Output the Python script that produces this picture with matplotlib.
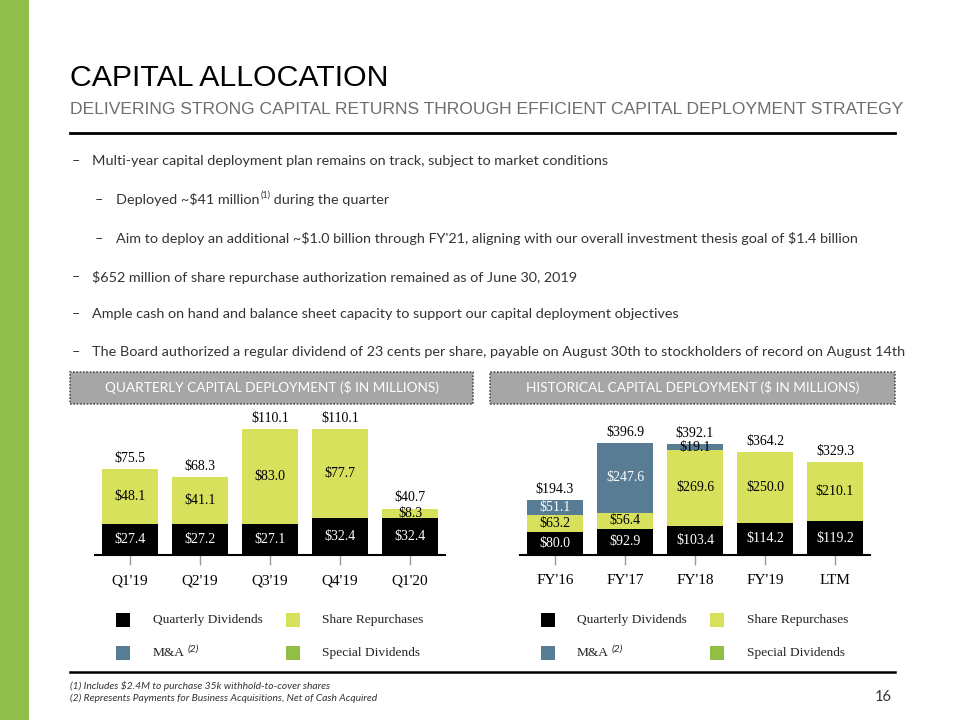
import matplotlib
matplotlib.use("Agg")
import matplotlib.pyplot as plt
from matplotlib import font_manager
from matplotlib.patches import Rectangle
from matplotlib.lines import Line2D

# dati
q_labels = ["Q1'19", "Q2'19", "Q3'19", "Q4'19", "Q1'20"]
q_div = [27.4, 27.2, 27.1, 32.4, 32.4]
q_rep = [48.1, 41.1, 83.0, 77.7, 8.3]
q_tot = [75.5, 68.3, 110.1, 110.1, 40.7]

fy_labels = ["FY'16", "FY'17", "FY'18", "FY'19", "LTM"]
fy_div = [80.0, 92.9, 103.4, 114.2, 119.2]
fy_rep = [63.2, 56.4, 269.6, 250.0, 210.1]
fy_ma = [51.1, 247.6, 19.1, 0, 0]
fy_tot = [194.3, 396.9, 392.1, 364.2, 329.3]

bullets = [
    (1, "Multi-year capital deployment plan remains on track, subject to market conditions"),
    (2, ["Deployed ~$41 million", "(1)", " during the quarter"]),
    (2, "Aim to deploy an additional ~$1.0 billion through FY'21, aligning with our overall investment thesis goal of $1.4 billion"),
    (1, "$652 million of share repurchase authorization remained as of June 30, 2019"),
    (1, "Ample cash on hand and balance sheet capacity to support our capital deployment objectives"),
    (1, "The Board authorized a regular dividend of 23 cents per share, payable on August 30th to stockholders of record on August 14th"),
]
footnotes = ["(1) Includes $2.4M to purchase 35k withhold-to-cover shares",
             "(2) Represents Payments for Business Acquisitions, Net of Cash Acquired"]

BLACK = "#000000"
YELLOW = "#D7E15B"
BLUE = "#587C94"
GREEN = "#92BE43"
SIDE = "#8FBE4B"

names = {f.name for f in font_manager.fontManager.ttflist}
NARROW = "Liberation Sans Narrow" if "Liberation Sans Narrow" in names else "Liberation Sans"
SERIF = "Liberation Serif"
BODY = "Lato"

W, H = 960, 720
fig = plt.figure(figsize=(9.6, 7.2), dpi=100)
r = fig.canvas.get_renderer()


def fx(x):
    return x / W


def fy(y):
    return 1 - y / H


def put(x, y, s, width=None, **kw):
    t = fig.text(fx(x), fy(y), s, parse_math=False, **kw)
    if width is not None:
        # restringe il testo alla larghezza voluta
        w = t.get_window_extent(renderer=r).width
        t.set_fontsize(t.get_fontsize() * width / w)
    return t.get_window_extent(renderer=r).x1


def hline(x0, x1, y, lw=1.8, color="black"):
    fig.add_artist(Line2D([fx(x0), fx(x1)], [fy(y), fy(y)], lw=lw, color=color))


# barra laterale
fig.add_artist(Rectangle((0, 0), fx(29), 1, color=SIDE, lw=0))

# titolo
put(70, 78, "CAPITAL ALLOCATION", width=320, family=NARROW, fontsize=26, va="center", color="black")
put(70, 109, "DELIVERING STRONG CAPITAL RETURNS THROUGH EFFICIENT CAPITAL DEPLOYMENT STRATEGY",
    width=837, family=NARROW, fontsize=13.5, va="center", color="#6E6E6E")
hline(70, 895, 133, lw=2)

# punti elenco
ys = [161, 200, 239, 277, 314, 352]
FS = 10.4
for (lvl, txt), y in zip(bullets, ys):
    dx = 72 if lvl == 1 else 95
    tx = 92 if lvl == 1 else 116
    put(dx, y, "\u2013", family=BODY, fontsize=FS, va="center", color="#333333")
    if isinstance(txt, list):
        x = put(tx, y, txt[0], family=BODY, fontsize=FS, va="center", color="#333333")
        x = put(x + 1, y - 5, txt[1], family=BODY, fontsize=6.5, va="center", color="#333333")
        put(x, y, txt[2], family=BODY, fontsize=FS, va="center", color="#333333")
    else:
        put(tx, y, txt, family=BODY, fontsize=FS, va="center", color="#333333")

# intestazioni dei grafici
for x0, x1, s in [(70, 473, "QUARTERLY CAPITAL DEPLOYMENT ($ IN MILLIONS)"),
                  (490, 895, "HISTORICAL CAPITAL DEPLOYMENT ($ IN MILLIONS)")]:
    fig.add_artist(Rectangle((fx(x0), fy(404)), fx(x1 - x0), 32 / H, facecolor="#A6A6A6",
                             edgecolor="#555555", lw=1.2, ls=(0, (1, 1))))
    put((x0 + x1) / 2, 388, s, family=BODY, fontsize=9.8, va="center", ha="center", color="white")


def chart(left, right, scale, cats, stacks, totals):
    ax = fig.add_axes([fx(left), fy(555), fx(right - left), 140 / H])
    ax.set_xlim(-0.5, 4.5)
    ax.set_ylim(0, 140 / scale)
    x = range(len(cats))
    bottom = [0] * len(cats)
    for vals, col, tcol in stacks:
        ax.bar(x, vals, 0.8, bottom=bottom, color=col, lw=0, zorder=2)
        for i, v in enumerate(vals):
            if v > 0:
                c = tcol if v * scale > 14 else "black"
                ax.text(i, bottom[i] + v / 2, "$%.1f" % v, ha="center", va="center",
                        family=SERIF, fontsize=10, color=c, zorder=3, parse_math=False)
        bottom = [b + v for b, v in zip(bottom, vals)]
    for i, t in enumerate(totals):
        ax.annotate("$%.1f" % t, (i, t), xytext=(0, 3), textcoords="offset points",
                    ha="center", va="bottom", family=SERIF, fontsize=10, color="black",
                    parse_math=False)
    for s in ["top", "right", "left"]:
        ax.spines[s].set_visible(False)
    ax.spines["bottom"].set_linewidth(1.5)
    ax.set_yticks([])
    ax.set_xticks(list(x))
    ax.set_xticklabels(cats, family=SERIF, fontsize=11)
    ax.tick_params(axis="x", length=7, color="#999999", width=1, pad=7)
    ax.patch.set_visible(False)
    return ax


chart(95, 445, 1.14, q_labels, [(q_div, BLACK, "white"), (q_rep, YELLOW, "black")], q_tot)
chart(520, 870, 0.282, fy_labels,
      [(fy_div, BLACK, "white"), (fy_rep, YELLOW, "black"), (fy_ma, BLUE, "white")], fy_tot)

# legende
legend = [("Quarterly Dividends", BLACK, 0, 0), ("Share Repurchases", YELLOW, 1, 0),
          ("M&A", BLUE, 0, 1), ("Special Dividends", GREEN, 1, 1)]
for sq_x, tx_x in [((123, 293), (153, 322)), ((548, 717), (577, 747))]:
    for name, col, c, row in legend:
        y = 620 + 33 * row
        fig.add_artist(Rectangle((fx(sq_x[c] - 7), fy(y + 7)), 14 / W, 14 / H, color=col, lw=0))
        x = put(tx_x[c], y, name, family=SERIF, fontsize=9.6, va="center", color="#222222")
        if name == "M&A":
            put(x + 3, y - 4, "(2)", family=BODY, style="italic", fontsize=7.5, va="center",
                color="#222222")

# note a piè di pagina
hline(70, 895, 672, lw=1.8)
put(70, 686, footnotes[0], family=BODY, style="italic", fontsize=7.4, va="center", color="#333333")
put(70, 698, footnotes[1], family=BODY, style="italic", fontsize=7.4, va="center", color="#333333")
put(892, 697, "16", family=BODY, fontsize=10.5, va="center", ha="right", color="#333333")

fig.savefig("out.png", dpi=100)
